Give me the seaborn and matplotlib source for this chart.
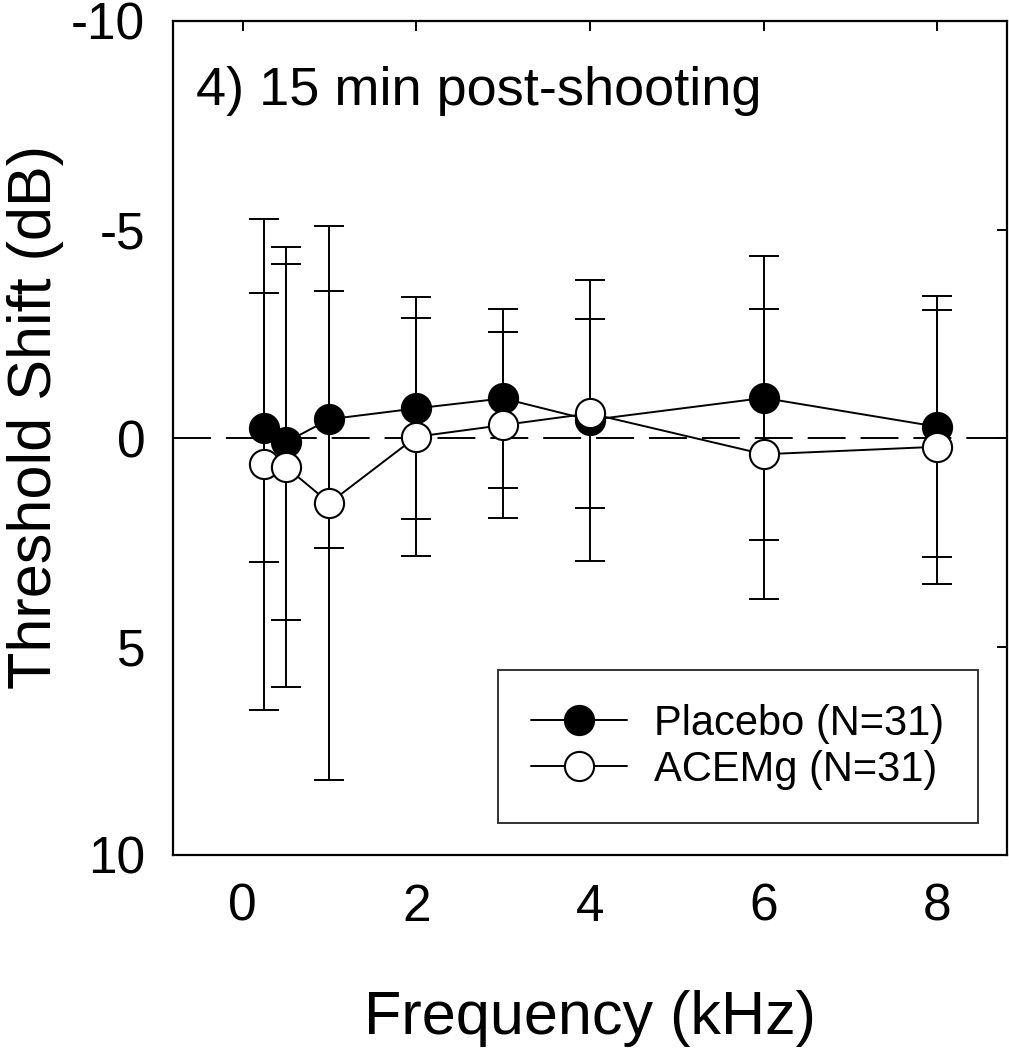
import seaborn as sns
import pandas as pd
import matplotlib
matplotlib.use('Agg')
import matplotlib.pyplot as plt

# values (mean threshold shift and SD, dB)
freq = [0.25, 0.5, 1, 2, 3, 4, 6, 8]
placebo_mean = [-0.25, 0.10, -0.45, -0.71, -0.95, -0.43, -0.96, -0.27]
placebo_sd = [3.22, 4.27, 3.08, 2.66, 2.14, 3.37, 3.41, 3.13]
acemg_mean = [0.63, 0.69, 1.56, -0.03, -0.31, -0.59, 0.39, 0.21]
acemg_sd = [5.89, 5.27, 6.65, 2.85, 2.22, 2.26, 3.48, 3.28]

x_ticks = [0, 2, 4, 6, 8]
y_ticks = [-10, -5, 0, 5, 10]
panel_title = '4) 15 min post-shooting'
placebo_label = 'Placebo (N=31)'
acemg_label = 'ACEMg (N=31)'

sns.set_theme(style='white')
plt.rcParams['font.family'] = ['Liberation Sans', 'DejaVu Sans']
plt.rcParams['axes.unicode_minus'] = False
for k in ('text.color', 'axes.labelcolor', 'xtick.color', 'ytick.color', 'axes.edgecolor'):
    plt.rcParams[k] = 'black'

def getDf(mean, sd):
    return pd.DataFrame({'freq': freq, 'mean': mean, 'sd': sd})

placebo = getDf(placebo_mean, placebo_sd)
acemg = getDf(acemg_mean, acemg_sd)

fig = plt.figure(figsize=(10.09, 10.5), dpi=100)
ax = fig.add_axes([173/1009, 195/1050, 834/1009, 834/1050])

# zero reference line
ax.axhline(0, color='black', lw=1.4, ls=(0, (19.5, 7.7)), zorder=1)

# error bars (under the markers)
for d in (placebo, acemg):
    ax.errorbar(d['freq'], d['mean'], yerr=d['sd'], fmt='none', ecolor='black',
                elinewidth=1.4, capsize=11, capthick=1.4, zorder=2)

sns.lineplot(data=placebo, x='freq', y='mean', ax=ax, color='black', lw=1.4,
             marker='o', markersize=21, markerfacecolor='black',
             markeredgecolor='black', markeredgewidth=1.5,
             errorbar=None, label=placebo_label, zorder=3)
sns.lineplot(data=acemg, x='freq', y='mean', ax=ax, color='black', lw=1.4,
             marker='o', markersize=21, markerfacecolor='white',
             markeredgecolor='black', markeredgewidth=1.5,
             errorbar=None, label=acemg_label, zorder=4)

ax.set_xlim(-0.8, 8.8)
ax.set_ylim(10, -10)
ax.set_xticks(x_ticks)
ax.set_yticks(y_ticks)
ax.tick_params(direction='in', length=7, width=1.4, color='black',
               labelsize=37, pad=20, top=True, right=True,
               labeltop=False, labelright=False, labelcolor='black')
for s in ax.spines.values():
    s.set_color('black')
    s.set_linewidth(1.6)

ax.set_xlabel('Frequency (kHz)', fontsize=44, labelpad=42, color='black')
ax.set_ylabel('Threshold Shift (dB)', fontsize=44, color='black')
ax.yaxis.set_label_coords(-0.131, 0.525)

ax.text(0.027, 0.899, panel_title, transform=ax.transAxes, fontsize=39,
        va='baseline', ha='left', color='black')

leg = ax.legend(loc='lower right', bbox_to_anchor=(0.965, 0.038),
                borderaxespad=0, fontsize=30, handlelength=2.3,
                handletextpad=0.65, borderpad=0.8, labelspacing=0.15,
                fancybox=False, frameon=True)
leg.get_frame().set_edgecolor('black')
leg.get_frame().set_linewidth(1.4)
for t in leg.get_texts():
    t.set_color('black')

fig.savefig('out.png', dpi=100)
